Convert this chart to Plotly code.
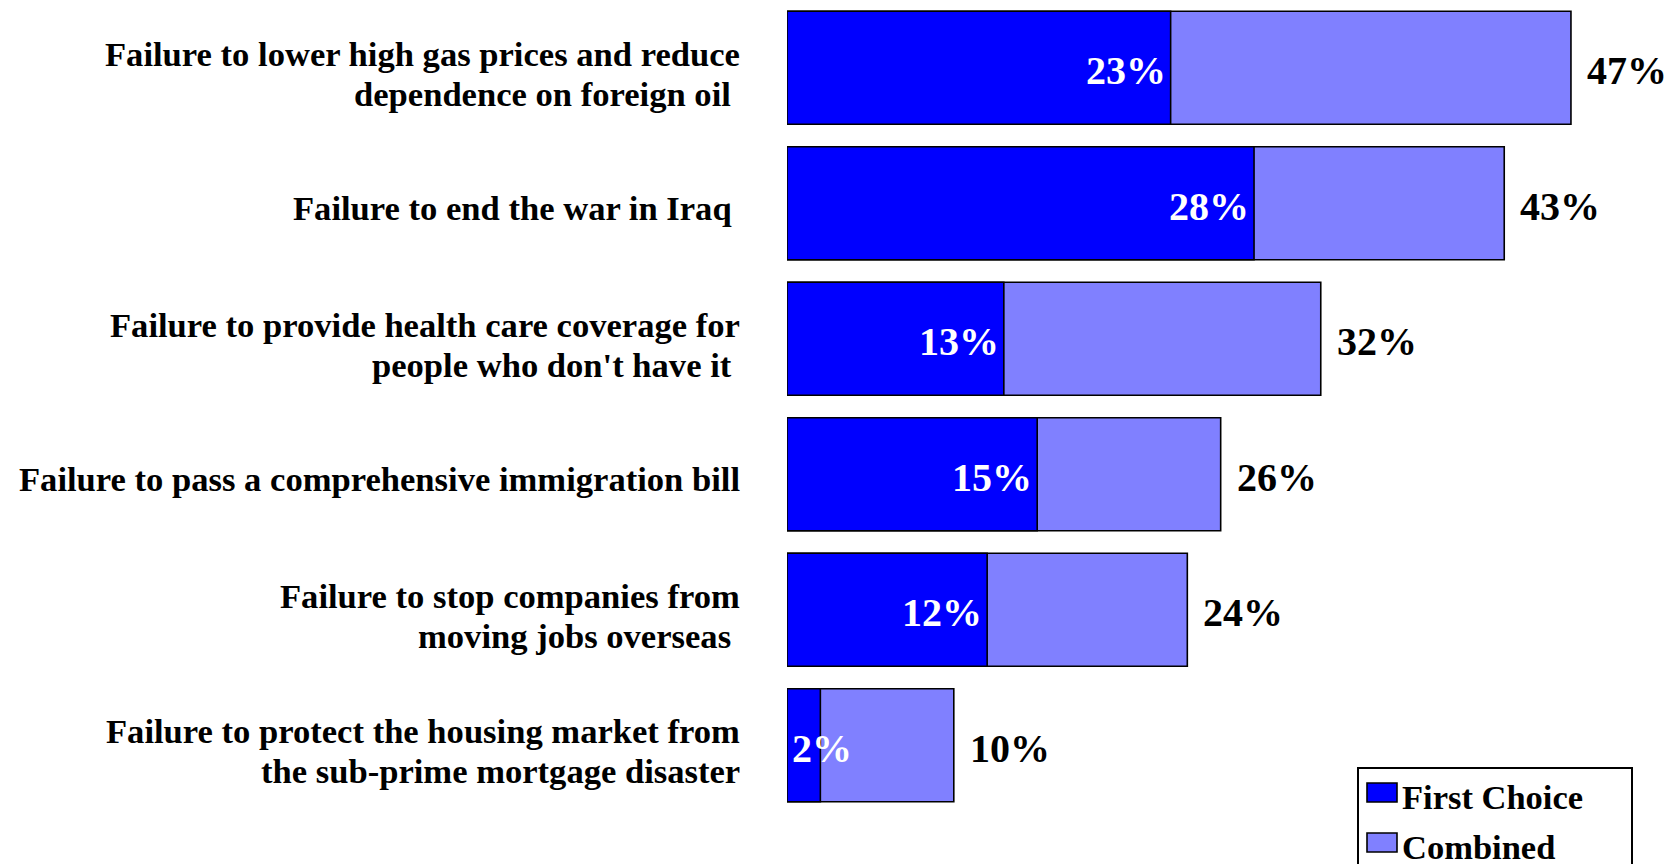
import plotly.graph_objects as go

# Survey results: share naming each failure as first choice and combined mentions
categories = [
    "Failure to lower high gas prices and reduce<br>dependence on foreign oil\u00a0",
    "Failure to end the war in Iraq\u00a0",
    "Failure to provide health care coverage for<br>people who don't have it\u00a0",
    "Failure to pass a comprehensive immigration bill",
    "Failure to stop companies from<br>moving jobs overseas\u00a0",
    "Failure to protect the housing market from<br>the sub-prime mortgage disaster",
]
first_choice = [23, 28, 13, 15, 12, 2]
combined = [47, 43, 32, 26, 24, 10]
series_names = ["First Choice", "Combined"]

DARK = "#0000FF"
LIGHT = "#8080FF"
FONT = "Liberation Serif"
VALUE_SIZE = 40
LABEL_SIZE = 34.6

W, H = 1673, 864
ML, MR, MT, MB = 787, 52, 0, 51
PW, PH = W - ML - MR, H - MT - MB
X_MAX = 50
PX_PER_UNIT = PW / X_MAX


def px(x):
    return (x - ML) / PW


def py(y):
    return (H - MB - y) / PH


def text_width(s, size):
    # approximate advance width of bold serif digits and percent sign
    return sum(1.0 if ch == "%" else 0.5 for ch in s) * size


fig = go.Figure()

# Combined bar underneath, first choice drawn on top of it
fig.add_trace(go.Bar(
    y=categories, x=combined, orientation="h", name=series_names[1],
    marker=dict(color=LIGHT, line=dict(color="black", width=1.6)),
    showlegend=False, hoverinfo="skip",
))
fig.add_trace(go.Bar(
    y=categories, x=first_choice, orientation="h", name=series_names[0],
    marker=dict(color=DARK, line=dict(color="black", width=1.6)),
    showlegend=False, hoverinfo="skip",
))

annotations = []
# category labels, one annotation per line for tight line spacing
for cat in categories:
    lines = cat.split("<br>")
    offsets = [-5] if len(lines) == 1 else [14, -26]
    for line, off in zip(lines, offsets):
        annotations.append(dict(
            x=0, y=cat, xref="x", yref="y", text=line, showarrow=False,
            xanchor="right", yanchor="middle", xshift=-45, yshift=off,
            font=dict(family=FONT, size=LABEL_SIZE, color="black", weight="bold"),
        ))

# first-choice values inside the dark bars (right-aligned, or from the bar
# start when the bar is too short to hold the label)
for cat, v in zip(categories, first_choice):
    label = f"{v}%"
    fits = text_width(label, VALUE_SIZE) + 6 < v * PX_PER_UNIT
    annotations.append(dict(
        x=v if fits else 0, y=cat, xref="x", yref="y", text=label,
        showarrow=False, xanchor="right" if fits else "left", yanchor="middle",
        xshift=-3 if fits else 3, yshift=-3,
        font=dict(family=FONT, size=VALUE_SIZE, color="white", weight="bold"),
    ))

# combined totals to the right of each bar
for cat, v in zip(categories, combined):
    annotations.append(dict(
        x=v, y=cat, xref="x", yref="y", text=f"{v}%", showarrow=False,
        xanchor="left", yanchor="middle", xshift=14, yshift=-3,
        font=dict(family=FONT, size=VALUE_SIZE, color="black", weight="bold"),
    ))

# legend box with swatches
shapes = [
    dict(type="rect", xref="paper", yref="paper",
         x0=px(1358), x1=px(1632), y0=py(870), y1=py(768),
         line=dict(color="black", width=2), fillcolor="white", layer="above"),
]
for i, (name, col) in enumerate(zip(series_names, [DARK, LIGHT])):
    top = 783 + 50 * i
    shapes.append(dict(type="rect", xref="paper", yref="paper",
                       x0=px(1367), x1=px(1397), y0=py(top + 19), y1=py(top),
                       line=dict(color="black", width=1.6), fillcolor=col,
                       layer="above"))
    annotations.append(dict(
        x=px(1400), y=py(top + 14), xref="paper", yref="paper", text=name,
        showarrow=False, xanchor="left", yanchor="middle",
        font=dict(family=FONT, size=34.5, color="black", weight="bold"),
    ))

fig.update_layout(
    width=W, height=H,
    margin=dict(l=ML, r=MR, t=MT, b=MB, pad=0),
    barmode="overlay", bargap=0.165,
    plot_bgcolor="white", paper_bgcolor="white",
    xaxis=dict(range=[0, X_MAX], visible=False, fixedrange=True),
    yaxis=dict(autorange="reversed", showticklabels=False, showgrid=False,
               zeroline=False, showline=False, ticks=""),
    shapes=shapes, annotations=annotations,
)

fig.write_html("out.html", config={"displayModeBar": False})
